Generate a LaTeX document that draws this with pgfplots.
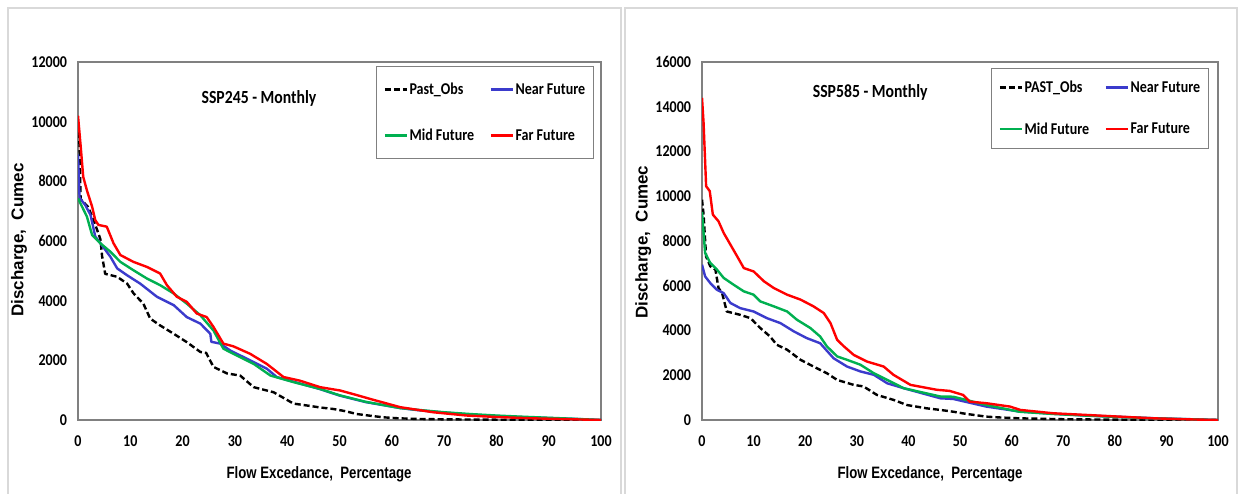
\documentclass[border=0pt]{standalone}
\usepackage{fontspec}
\usepackage{pgfplots}
\pgfplotsset{compat=1.18}
\setmainfont{Carlito}
\newfontfamily\calb[FakeStretch=0.85]{Carlito}
\newfontfamily\arialn[FakeStretch=0.8]{Liberation Sans}
\newfontfamily\arial{Liberation Sans}
\definecolor{nearc}{HTML}{3B3BCC}
\definecolor{midc}{HTML}{00B050}
\definecolor{farc}{HTML}{FF0000}
\definecolor{framec}{HTML}{D9D9D9}
\definecolor{axisc}{HTML}{808080}

\pgfplotsset{
  fdc/.style={
    scale only axis, height=358pt,
    xmin=0, xmax=100, ymin=0,
    xtick={0,10,...,100},
    scaled y ticks=false,
    major tick length=0pt,
    axis line style={draw=axisc, line width=1.4pt},
    tick label style={font=\calb\bfseries\fontsize{16.5}{16.5}\selectfont},
    /pgf/number format/assume math mode=true,
    /pgf/number format/1000 sep={},
    yticklabel style={xshift=-7.5pt},
    xticklabel style={yshift=-12pt},
    xlabel={Flow Excedance,\ \ Percentage},
    ylabel={Discharge,\ \ Cumec},
    xlabel style={font=\arialn\bfseries\fontsize{16.5}{16.5}\selectfont, anchor=center},
    ylabel style={font=\arial\bfseries\fontsize{17}{17}\selectfont, anchor=center},
    legend columns=2,
    legend cell align=left,
    legend image code/.code={\draw[#1, line width=2.4pt] (0pt,0pt) -- (22pt,0pt);},
    legend style={draw=axisc, line width=1pt, anchor=north east,
      font=\calb\bfseries\fontsize{16.5}{16.5}\selectfont,
      nodes={inner sep=1.5pt},
      /tikz/every even column/.append style={column sep=14pt}},
    every axis plot/.append style={line width=2.4pt, line join=round},
  },
  obs/.style={black, dash pattern=on 6pt off 3pt},
}

\begin{document}
\begin{tikzpicture}
\useasboundingbox (0,0) rectangle (1240pt,493pt);
\fill[white] (0,0) rectangle (1240pt,493pt);
\draw[framec, line width=1.4pt] (8pt,-2pt) -- (8pt,485pt) -- (621pt,485pt) -- (621pt,-2pt);
\draw[framec, line width=1.4pt] (625pt,-2pt) -- (625pt,485pt) -- (1237pt,485pt) -- (1237pt,-2pt);

% ---- SSP245 ----
\begin{axis}[fdc,
  at={(78pt,73pt)}, anchor=south west,
  width=523pt,
  ymax=12000, ytick={0,2000,...,12000},
  xlabel style={at={(axis description cs:0.461,-0.151)}},
  ylabel style={at={(axis description cs:-0.113,0.503)}},
  legend style={at={(axis description cs:0.987,0.989)}, row sep=30pt,
    inner xsep=7pt, inner ysep=15pt},
]
\addplot[obs] coordinates {
(0,9950) (0.3,9200) (0.5,7400) (1.9,7150) (3.0,6700) (4.3,6050) (4.6,5500)
(5.2,4900) (7.5,4800) (9.4,4570) (10.6,4250) (12.5,3900) (13.8,3400)
(15.7,3170) (18.3,2890) (20.8,2610) (23.4,2280) (24.5,2250) (25.9,1780)
(28.5,1560) (31,1490) (33.6,1100) (37.4,930) (41.2,550) (44,480) (46.3,420)
(48.8,370) (51,300) (53.3,200) (56,140) (58.4,90) (61,60) (64.8,35) (70,22)
(80,10) (90,4) (100,0)
};
\addlegendentry{Past\_Obs}
\addplot[nearc] coordinates {
(0,8900) (0.3,7450) (1.4,7200) (2.4,6870) (3.3,6150) (4.3,5920) (6.2,5470)
(7.5,5080) (9.4,4850) (11.9,4570) (15.1,4130) (18.3,3850) (20.8,3450)
(23.4,3230) (25.3,2890) (25.5,2620) (27.2,2560) (29.1,2330) (32.9,2000)
(36.1,1720) (38,1440) (42.5,1220) (46,1050) (50,820) (55,600) (61.6,400)
(65,330) (70,250) (75,180) (80,130) (85,95) (90,65) (95,35) (100,0)
};
\addlegendentry{Near Future}
\addplot[midc] coordinates {
(0,7430) (1.7,6820) (2.7,6200) (4.3,5920) (6.2,5640) (8.1,5300) (10.6,5020)
(13.2,4740) (15.7,4520) (18.3,4240) (20.8,3900) (23.4,3510) (25.9,3000)
(27.8,2390) (29.7,2220) (33.6,1880) (36.8,1490) (41.2,1270) (46.3,1040)
(50,830) (55,610) (61.6,400) (65,340) (70,260) (75,200) (80,150) (85,110)
(90,75) (95,40) (100,0)
};
\addlegendentry{Mid Future}
\addplot[farc] coordinates {
(0,10200) (0.5,9200) (1.0,8150) (1.7,7700) (2.7,7150) (3.3,6700) (3.9,6540)
(5.5,6480) (6.8,5920) (8.1,5530) (10.6,5300) (13.2,5130) (15.7,4910)
(17,4520) (18.9,4130) (20.8,3960) (22.7,3570) (24.6,3450) (25.9,3120)
(27.8,2560) (29.7,2470) (32.9,2220) (36.1,1880) (39.3,1440) (42.4,1320)
(46.3,1100) (50.1,990) (53,850) (56.4,680) (61.6,430) (67.9,260) (74.3,150)
(80.7,95) (87,56) (93,30) (100,0)
};
\addlegendentry{Far Future}
\node[font=\calb\bfseries\fontsize{18.5}{18.5}\selectfont] at (axis description cs:0.346,0.899) {SSP245 - Monthly};
\end{axis}

% ---- SSP585 ----
\begin{axis}[fdc,
  at={(702pt,73pt)}, anchor=south west,
  width=516pt,
  ymax=16000, ytick={0,2000,...,16000},
  xlabel style={at={(axis description cs:0.442,-0.151)}},
  ylabel style={at={(axis description cs:-0.114,0.497)}},
  legend style={at={(axis description cs:0.983,0.983)}, row sep=25.5pt,
    inner xsep=7pt, inner ysep=11pt},
]
\addplot[obs] coordinates {
(0,9850) (0.3,9200) (0.8,7300) (1.6,6870) (2.6,6720) (3.2,5900) (3.9,5670)
(4.8,4850) (7.4,4700) (9.4,4550) (11.3,4110) (13.2,3730) (14.5,3360)
(16.5,3140) (19.1,2690) (21.6,2390) (24.2,2090) (26.2,1790) (29.4,1570)
(31.3,1500) (33.9,1120) (37.1,900) (39.7,670) (43.6,520) (46.2,450)
(48.7,370) (51,280) (55.1,150) (58,110) (61.5,75) (70,35) (80,15) (90,5)
(100,0)
};
\addlegendentry{PAST\_Obs}
\addplot[nearc] coordinates {
(0,6940) (0.6,6420) (1.6,6120) (2.9,5820) (4.2,5670) (5.5,5230) (7.4,5000)
(10,4850) (12.6,4550) (15.2,4330) (17.8,3960) (20.3,3660) (22.9,3430)
(25.5,2760) (28.1,2390) (30.7,2170) (33.3,2020) (35.9,1640) (39.1,1420)
(46.2,970) (48.7,940) (55.1,600) (61.5,380) (68,280) (74.6,200) (81,140)
(87.5,80) (94,40) (100,0)
};
\addlegendentry{Near Future}
\addplot[midc] coordinates {
(0,9300) (0.6,7470) (1.6,7020) (2.9,6720) (4.2,6350) (6.1,6050) (8.1,5750)
(10,5600) (11.3,5300) (13.9,5080) (16.5,4850) (18.4,4480) (21,4110)
(22.9,3730) (24.2,3290) (26.2,2840) (28.1,2690) (30.7,2470) (33.3,2090)
(35.9,1790) (39.1,1420) (46.2,1050) (48.7,1040) (55.1,670) (61.5,370)
(68,270) (74.6,195) (81,130) (87.5,75) (94,35) (100,0)
};
\addlegendentry{Mid Future}
\addplot[farc] coordinates {
(0,14400) (0.3,13300) (0.8,10450) (1.5,10230) (2.1,9180) (3.2,8880)
(4.2,8360) (5.5,7840) (6.8,7320) (8.1,6790) (10,6640) (12,6200) (13.9,5900)
(16.5,5600) (19.1,5380) (21.6,5080) (23.6,4780) (24.9,4330) (26.2,3580)
(27.5,3290) (29.4,2910) (32,2610) (35.2,2390) (37.1,2020) (40.4,1570)
(45.5,1350) (48,1300) (50.6,1120) (51.9,820) (55.1,750) (59.7,600)
(61.7,450) (68.1,300) (74.6,225) (81,150) (87.5,75) (94,30) (100,0)
};
\addlegendentry{Far Future}
\node[font=\calb\bfseries\fontsize{18.5}{18.5}\selectfont] at (axis description cs:0.326,0.916) {SSP585 - Monthly};
\end{axis}
\end{tikzpicture}
\end{document}
